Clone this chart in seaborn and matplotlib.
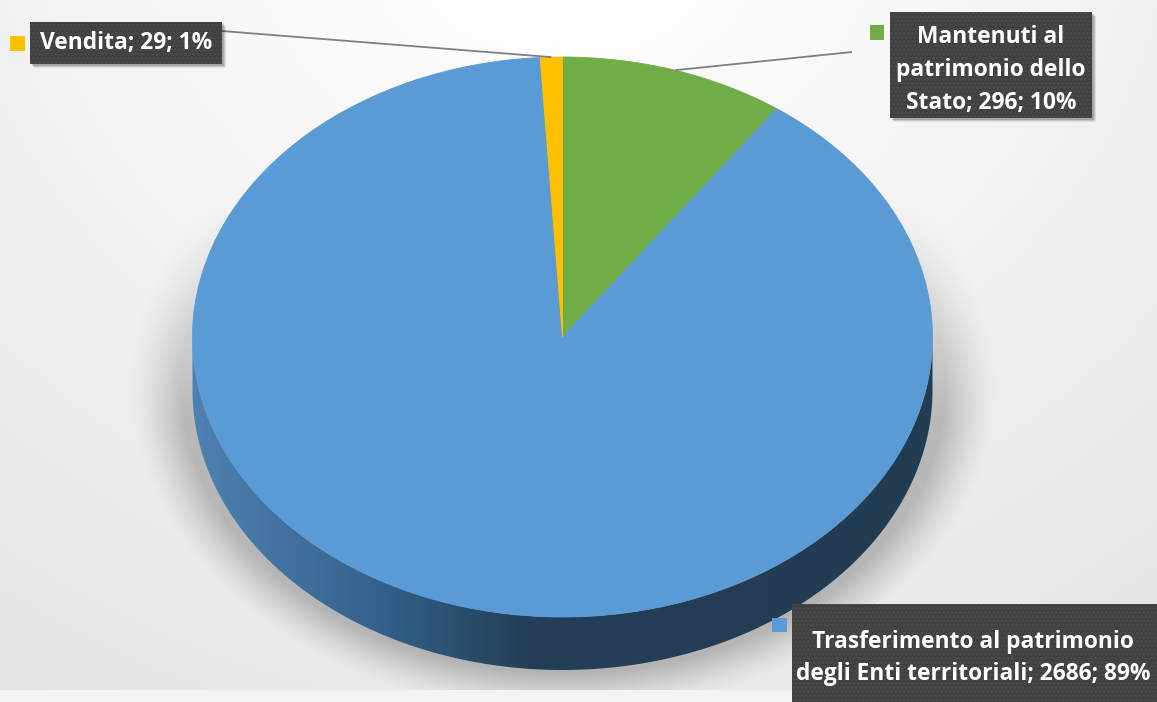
import numpy as np
import matplotlib
matplotlib.use("Agg")
import matplotlib.pyplot as plt
import seaborn as sns
from matplotlib.patches import Rectangle, Polygon
from matplotlib.colors import LinearSegmentedColormap

# ---------------- data ----------------
categories = ["Mantenuti al\npatrimonio dello\nStato",
              "Trasferimento al patrimonio\ndegli Enti territoriali",
              "Vendita"]
values = [296, 2686, 29]
colors = ["#70ad47", "#5b9bd5", "#ffc000"]

# ---------------- style ----------------
sns.set_theme(style="white")
plt.rcParams['font.family'] = ['Open Sans', 'DejaVu Sans']
plt.rcParams['hatch.linewidth'] = 1.6

W, H = 1157, 702
fig = plt.figure(figsize=(W / 100, H / 100), dpi=100)
ax = fig.add_axes([0, 0, 1, 1])

# pie geometry in pixels (top face ellipse)
CX, CY, RX, RY, DEPTH = 562.5, 337.0, 370.0, 280.0, 53.0
xlim = (-CX / RX, (W - CX) / RX)
ylim = (-(H - CY) / RY, CY / RY)
d = DEPTH / RY

def to_px(ux, uy):
    return CX + RX * ux, CY - RY * uy

# ---------------- background with shadow ----------------
py, px = np.mgrid[0:H, 0:W].astype(float)
dist = np.sqrt(((px - 563) / 900) ** 2 + ((py + 100) / 800) ** 2)
val = 0.997 - 0.10 * np.clip(dist - 0.15, 0, 1)
u = (px - 563) / 398
v = (py - 385) / 300
r = np.sqrt(u ** 2 + v ** 2)
s = np.clip((1.09 - r) / 0.13, 0, 1) ** 1.3
w = np.clip((py - 190) / 230, 0, 1)
dark = 0.21 * s * w
val = val - dark
val[py >= 690] = 0.955
bg = np.dstack([val, val, val])
ax.imshow(bg, extent=(xlim[0], xlim[1], ylim[0], ylim[1]), origin='upper',
          aspect='auto', zorder=0, interpolation='bilinear')

# ---------------- 3D side ----------------
t = np.linspace(np.pi, 2 * np.pi, 300)
top_edge = np.column_stack([np.cos(t), np.sin(t)])
bot_edge = np.column_stack([np.cos(t[::-1]), np.sin(t[::-1]) - d])
side = Polygon(np.vstack([top_edge, bot_edge]), closed=True, fc='none', ec='none')
ax.add_patch(side)
side_cmap = LinearSegmentedColormap.from_list(
    "side", [(0, "#4f82b2"), (0.25, "#34628c"), (0.45, "#243f57"), (1.0, "#223c52")])
grad = np.tile(np.linspace(0, 1, 400), (50, 1))
im = ax.imshow(grad, extent=(-1.01, 1.01, -1 - d - 0.01, 0.01), cmap=side_cmap,
               aspect='auto', zorder=1, origin='upper')
im.set_clip_path(side)

# ---------------- pie ----------------
wedges, _ = ax.pie(values, colors=colors, startangle=90, counterclock=False,
                   radius=1, center=(0, 0), frame=False,
                   wedgeprops=dict(linewidth=0.6, zorder=2))
for wdg, c in zip(wedges, colors):
    wdg.set_edgecolor(c)
ax.set_aspect('auto')
ax.set_xlim(*xlim)
ax.set_ylim(*ylim)
ax.axis('off')

# ---------------- labels ----------------
total = sum(values)
pcts = [round(100 * x / total) for x in values]
labels = [f"{c}; {x}; {p}%" for c, x, p in zip(categories, values, pcts)]
cum = np.cumsum([0] + values[:-1])
mids = [90 - 360 * (c0 + x / 2) / total for c0, x in zip(cum, values)]

ov = fig.add_axes([0, 0, 1, 1], facecolor='none')
ov.set_xlim(0, W)
ov.set_ylim(H, 0)
ov.axis('off')

layout = [
    dict(box=(890, 12, 1092, 118), txt=(991, 70), mk=(870, 25, 884, 40), lead=(852, 52)),
    dict(box=(792, 604, 1165, 710), txt=(973, 658), mk=(772, 618, 787, 632), lead=None),
    dict(box=(30, 22, 222, 64), txt=(126, 43), mk=(10, 36, 25, 51), lead=(222, 31)),
]

for lab, col, mid, lay in zip(labels, colors, mids, layout):
    x0, y0, x1, y1 = lay['box']
    if lay['lead'] is not None:
        ex, ey = to_px(np.cos(np.radians(mid)), np.sin(np.radians(mid)))
        ov.plot([lay['lead'][0], ex], [lay['lead'][1], ey], color='#7f7f7f',
                lw=1.3, zorder=3, solid_capstyle='butt')
    for k, a in [(4, 0.08), (3, 0.12), (2, 0.15)]:
        ov.add_patch(Rectangle((x0 + k, y0 + k), x1 - x0, y1 - y0, fc='black',
                               ec='none', alpha=a, zorder=4))
    ov.add_patch(Rectangle((x0, y0), x1 - x0, y1 - y0, fc='#3f3f3f', ec='#4c4c4c',
                           lw=0, hatch='....', zorder=5))
    mx0, my0, mx1, my1 = lay['mk']
    ov.add_patch(Rectangle((mx0, my0), mx1 - mx0, my1 - my0, fc=col, ec='none', zorder=5))
    ov.text(lay['txt'][0], lay['txt'][1], lab, color='white', fontsize=16.4,
            fontweight='bold', ha='center', va='center', linespacing=1.5, zorder=6)

fig.savefig("out.png", dpi=100)
